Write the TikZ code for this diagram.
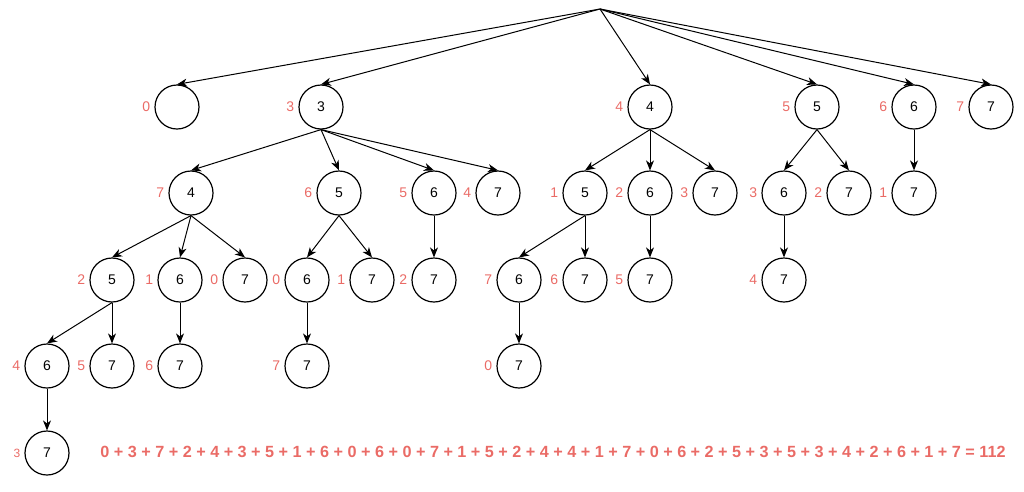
\documentclass[tikz,border=0pt]{standalone}
\usepackage{fontspec}
\setmainfont{Liberation Sans}
\usetikzlibrary{arrows.meta}
\definecolor{count color}{HTML}{EA6B66}
\tikzset{
    x={1pt},
    y={-1pt},
    value node/.style={
        circle, draw=black,
        line width={1.2pt},
        minimum size={44},
        inner sep=0pt,
        font={\fontsize{14}{16}\selectfont},
    },
    count label/.style={
        font={\fontsize{14}{16}\selectfont\color{count color}},
        inner sep=1pt,
        label distance=3pt,
    },
    value/.style={
        value node,
        label={[count label]left:#1},
    },
    edge/.style={
        draw=black,
        line width={1pt},
        -{Stealth[length=10pt,width=8pt,inset=3pt]},
    },
    total/.style={
        font={\fontsize{16.2}{19}\selectfont\bfseries\color{count color}},
    },
}

\begin{document}
\begin{tikzpicture}
\useasboundingbox (0,0) rectangle (1024,491);
% root
\coordinate (root) at (600,9);
% first level
\node[value={0}] (nempty) at (177,107) {};
\node[value={3}] (n3) at (321,107) {3};
\node[value={4}] (n4) at (650,107) {4};
\node[value={5}] (n5) at (817,107) {5};
\node[value={6}] (n6) at (914,107) {6};
\node[value={7}] (n7) at (991,107) {7};
% second level
\node[value={7}] (n34) at (191,193) {4};
\node[value={6}] (n35) at (339,193) {5};
\node[value={5}] (n36) at (434,193) {6};
\node[value={4}] (n37) at (498,193) {7};
\node[value={1}] (n45) at (585,193) {5};
\node[value={2}] (n46) at (650,193) {6};
\node[value={3}] (n47) at (715,193) {7};
\node[value={3}] (n56) at (784,193) {6};
\node[value={2}] (n57) at (849,193) {7};
\node[value={1}] (n67) at (914,193) {7};
% third level
\node[value={2}] (n345) at (112,280) {5};
\node[value={1}] (n346) at (180,280) {6};
\node[value={0}] (n347) at (245,280) {7};
\node[value={0}] (n356) at (307,280) {6};
\node[value={1}] (n357) at (372,280) {7};
\node[value={2}] (n367) at (434,280) {7};
\node[value={7}] (n456) at (519,280) {6};
\node[value={6}] (n457) at (585,280) {7};
\node[value={5}] (n467) at (650,280) {7};
\node[value={4}] (n567) at (784,280) {7};
% fourth level
\node[value={4}] (n3456) at (47,366) {6};
\node[value={5}] (n3457) at (112,366) {7};
\node[value={6}] (n3467) at (180,366) {7};
\node[value={7}] (n3567) at (307,366) {7};
\node[value={0}] (n4567) at (519,366) {7};
% fifth level
\node[value node, label={[count label, font={\fontsize{12}{14}\selectfont\color{count color}}]left:3}] (n34567) at (47,453) {7};
% edges
\foreach \child in {nempty,n3,n4,n5,n6,n7}
    \draw[edge] (root) -- (\child.north);
\foreach \parent/\child in {n3/n34,n3/n35,n3/n36,n3/n37,
        n34/n345,n34/n346,n34/n347,n345/n3456,n345/n3457,n3456/n34567,n346/n3467,
        n35/n356,n35/n357,n356/n3567,n36/n367,
        n4/n45,n4/n46,n4/n47,n45/n456,n45/n457,n456/n4567,n46/n467,
        n5/n56,n5/n57,n56/n567,n6/n67}
    \draw[edge] (\parent.south) -- (\child.north);
% sum
\node[total] (sum) at (553,452) {0 + 3 + 7 + 2 + 4 + 3 + 5 + 1 + 6 + 0 + 6 + 0 + 7 + 1 + 5 + 2 + 4 + 4 + 1 + 7 + 0 + 6 + 2 + 5 + 3 + 5 + 3 + 4 + 2 + 6 + 1 + 7 = 112};
\end{tikzpicture}
\end{document}
